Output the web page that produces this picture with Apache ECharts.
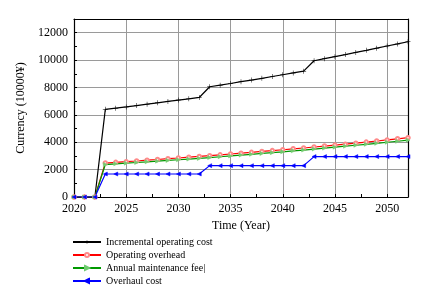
<!DOCTYPE html>
<html><head><meta charset="utf-8">
<script src="https://cdn.jsdelivr.net/npm/echarts@6/dist/echarts.min.js"></script>
<style>html,body{margin:0;padding:0;background:#fff}#c{width:439px;height:301px}</style>
</head><body><div id="c"></div>
<script>
var years = [];
for (var y = 2020; y <= 2052; y++) years.push(y);
var seriesNames = ['Incremental operating cost', 'Operating overhead', 'Annual maintenance fee|', 'Overhaul cost'];
var incremental = [0, 0, 0,
  6400, 6490, 6580, 6680, 6780, 6880, 6980, 7080, 7170, 7270,
  8050, 8170, 8290, 8420, 8540, 8670, 8800, 8930, 9060, 9190,
  9950, 10100, 10250, 10400, 10560, 10710, 10870, 11030, 11180, 11340];
var overhead = [0, 0, 0,
  2480, 2530, 2580, 2630, 2690, 2740, 2800, 2850, 2910, 2960,
  3020, 3080, 3140, 3200, 3260, 3330, 3390, 3450, 3520, 3580,
  3650, 3720, 3790, 3860, 3930, 4010, 4090, 4170, 4250, 4330];
var maintenance = [0, 0, 0,
  2370, 2420, 2470, 2520, 2570, 2620, 2670, 2720, 2770, 2820,
  2880, 2940, 3000, 3060, 3120, 3180, 3240, 3300, 3370, 3430,
  3500, 3570, 3640, 3710, 3780, 3850, 3920, 4000, 4070, 4150];
var overhaul = [0, 0, 0,
  1680, 1680, 1680, 1680, 1680, 1680, 1680, 1680, 1680, 1680,
  2290, 2290, 2290, 2290, 2290, 2290, 2290, 2290, 2290, 2290,
  2950, 2950, 2950, 2950, 2950, 2950, 2950, 2950, 2950, 2950];

function pairs(vals){ return years.map(function(y,i){ return [y, vals[i]]; }); }
var font = 'Liberation Serif';
var plus = 'path://M4.5,0 L5.5,0 L5.5,4.5 L10,4.5 L10,5.5 L5.5,5.5 L5.5,10 L4.5,10 L4.5,5.5 L0,5.5 L0,4.5 L4.5,4.5 Z';
function mk(name, vals, color, symbol, size, symColor, bw){
  return {
    name: name, type: 'line', data: pairs(vals), symbol: symbol, symbolSize: size,
    showAllSymbol: true, animation: false,
    lineStyle: { color: color, width: 1.2 },
    itemStyle: { color: symColor || color, borderColor: symColor || color, borderWidth: bw == null ? 0.5 : bw }
  };
}
var axisBase = {
  axisLine: { show: true, onZero: false, lineStyle: { color: '#000', width: 1.2 } },
  axisTick: { show: false }, axisLabel: { show: false }, splitLine: { show: false }
};
var chart = echarts.init(document.getElementById('c'));
chart.setOption({
  animation: false,
  textStyle: { fontFamily: font },
  grid: { left: 74, right: 31, top: 19, bottom: 104, show: false, containLabel: false },
  legend: {
    orient: 'vertical', left: 67, top: 232, itemWidth: 28, itemHeight: 5, itemGap: 3,
    textStyle: { fontFamily: font, fontSize: 10, color: '#000' },
    data: seriesNames
  },
  xAxis: [{
    type: 'value', min: 2020, max: 2052, interval: 5,
    name: 'Time (Year)', nameLocation: 'middle', nameGap: 22,
    nameTextStyle: { fontFamily: font, fontSize: 12, color: '#000' },
    axisLine: { onZero: false, lineStyle: { color: '#000', width: 1.2 } },
    axisTick: { inside: true, length: 3, lineStyle: { color: '#000' } },
    minorTick: { show: true, splitNumber: 2, length: 3, lineStyle: { color: '#000' } },
    axisLabel: { fontFamily: font, fontSize: 12, color: '#000', margin: 6,
      formatter: function(v){ return v % 5 === 0 && v <= 2050 ? String(v) : ''; } },
    splitLine: { show: true, lineStyle: { color: '#9a9a9a', width: 1 } }
  }, Object.assign({ type: 'value', position: 'top', min: 2020, max: 2052 }, axisBase)],
  yAxis: [{
    type: 'value', min: 0, max: 13000, interval: 2000,
    name: 'Currency (10000¥)', nameLocation: 'middle', nameGap: 45,
    nameTextStyle: { fontFamily: font, fontSize: 12, color: '#000' },
    axisLine: { show: true, onZero: false, lineStyle: { color: '#000', width: 1.2 } },
    axisTick: { inside: true, length: 3, lineStyle: { color: '#000' } },
    minorTick: { show: true, splitNumber: 2, length: 3, lineStyle: { color: '#000' } },
    axisLabel: { fontFamily: font, fontSize: 12, color: '#000', margin: 6,
      formatter: function(v){ return v % 2000 === 0 ? String(v) : ''; } },
    splitLine: { show: true, lineStyle: { color: '#9a9a9a', width: 1 } }
  }, Object.assign({ type: 'value', position: 'right', min: 0, max: 13000 }, axisBase)],
  series: [
    mk(seriesNames[0], incremental, '#000000', plus, 5, '#000000', 0),
    mk(seriesNames[1], overhead, '#ff0000', 'emptyCircle', 3.5, '#ff8a8a', 1),
    mk(seriesNames[2], maintenance, '#009900', 'path://M0,0 L10,5 L0,10 Z', 4, '#70cc70'),
    mk(seriesNames[3], overhaul, '#0000ff', 'path://M10,0 L0,5 L10,10 Z', 4, '#0000ff')
  ]
});
</script></body></html>
